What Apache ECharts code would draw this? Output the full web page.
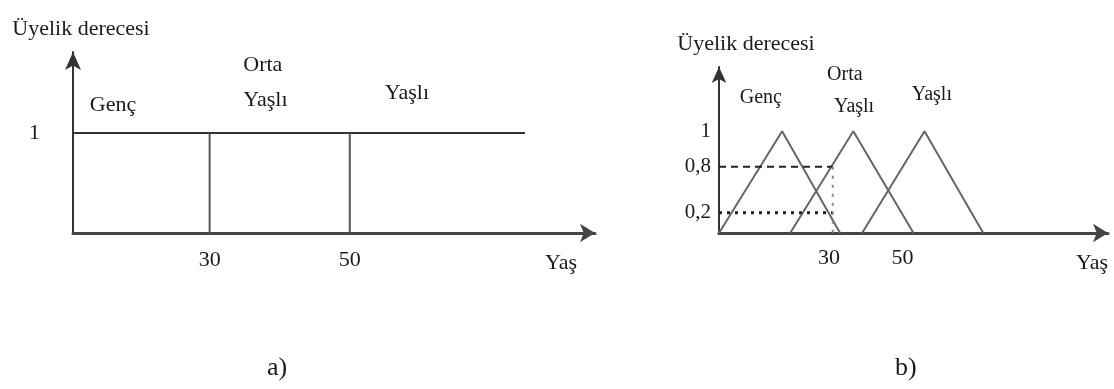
<!DOCTYPE html>
<html>
<head>
<meta charset="utf-8">
<script src="https://cdn.jsdelivr.net/npm/echarts@6/dist/echarts.min.js"></script>
<style>
  html, body { margin: 0; padding: 0; background: #fff; }
  #main { width: 1114px; height: 389px; }
</style>
</head>
<body>
<div id="main"></div>
<script>
// a) crisp sets
const cutsA = [30, 50];
const topLineA = [[10.5, 1], [75, 1]];
const labelTextA = ['Genç', 'Orta', 'Yaşlı', 'Yaşlı'];
const labelXA = [12.9, 34.8, 34.8, 55];
const labelYA = [1.28, 1.68, 1.33, 1.40];

// b) fuzzy sets (triangles)
const gencB = [[0, 0], [17.2, 1], [33, 0]];
const ortaB = [[19.4, 0], [36.6, 1], [53, 0]];
const yasliB = [[39, 0], [56, 1], [72, 0]];
const cutB = 31;
const highB = 0.65;
const lowB = 0.2;
const labelTextB = ['Genç', 'Orta', 'Yaşlı', 'Yaşlı'];
const labelXB = [11.4, 34.3, 36.8, 58];
const labelYB = [1.33, 1.55, 1.24, 1.36];

const xTicksA = [30, 50];
const xTicksB = [30, 50];
const yTicksA = [1];
const yTicksB = [0.2, 0.65, 1];
const yTickTextB = ['0,2', '0,8', '1'];

const font = 'Liberation Serif';
const ink = '#1a1a1a';

function textPoints(xs, ys, names) {
    return names.map(function (n, i) {
        return { value: [xs[i], ys[i]], name: n };
    });
}

function baseX(min, max, ticks, margin, nameGap) {
    return {
        type: 'value', min: min, max: max,
        name: 'Yaş', nameLocation: 'end', nameGap: nameGap,
        nameTextStyle: { fontFamily: font, fontSize: 22, color: ink, align: 'right', verticalAlign: 'top', padding: [19, 0, 0, 0] },
        splitLine: { show: false },
        axisTick: { show: false },
        axisLine: { symbol: ['none', 'arrow'], symbolSize: [14, 15], lineStyle: { color: '#444', width: 3 } },
        axisLabel: { customValues: ticks, margin: margin, fontFamily: font, fontSize: 22, color: ink }
    };
}

option = {
    animation: false,
    title: [
        { text: 'a)', left: 262, top: 350, textStyle: { fontFamily: font, fontSize: 26, fontWeight: 'normal', color: ink } },
        { text: 'b)', left: 890, top: 350, textStyle: { fontFamily: font, fontSize: 26, fontWeight: 'normal', color: ink } }
    ],
    grid: [
        { left: 73, right: 519, top: 52, bottom: 156 },
        { left: 719, right: 6, top: 67, bottom: 156 }
    ],
    xAxis: [
        Object.assign(baseX(10.5, 85, xTicksA, 16, -18), { gridIndex: 0 }),
        Object.assign(baseX(0, 106, xTicksB, 14, 0), { gridIndex: 1 })
    ],
    yAxis: [{
        gridIndex: 0, type: 'value', min: 0, max: 1.81,
        name: 'Üyelik derecesi', nameLocation: 'end', nameGap: 12,
        nameTextStyle: { fontFamily: font, fontSize: 22, color: ink, padding: [0, 0, 0, 16] },
        splitLine: { show: false },
        axisTick: { show: false },
        axisLine: { symbol: ['none', 'arrow'], symbolSize: [12, 18], lineStyle: { color: '#333', width: 2 } },
        axisLabel: { customValues: yTicksA, margin: 33, fontFamily: font, fontSize: 22, color: ink }
    }, {
        gridIndex: 1, type: 'value', min: 0, max: 1.63,
        name: 'Üyelik derecesi', nameLocation: 'end', nameGap: 12,
        nameTextStyle: { fontFamily: font, fontSize: 22, color: ink, padding: [0, 0, 0, 54] },
        splitLine: { show: false },
        axisTick: { show: false },
        axisLine: { symbol: ['none', 'arrow'], symbolSize: [11, 16], lineStyle: { color: '#333', width: 2 } },
        axisLabel: {
            customValues: yTicksB, margin: 8, fontFamily: font, fontSize: 21, color: ink,
            padding: [0, 0, 10, 0],
            formatter: function (v) {
                return yTickTextB[yTicksB.indexOf(v)];
            }
        }
    }],
    series: [
        // a)
        { type: 'line', xAxisIndex: 0, yAxisIndex: 0, data: topLineA, symbol: 'none', silent: true,
          lineStyle: { color: '#333', width: 2 } },
        { type: 'line', xAxisIndex: 0, yAxisIndex: 0, data: [[cutsA[0], 0], [cutsA[0], 1]], symbol: 'none', silent: true,
          lineStyle: { color: '#555', width: 2 } },
        { type: 'line', xAxisIndex: 0, yAxisIndex: 0, data: [[cutsA[1], 0], [cutsA[1], 1]], symbol: 'none', silent: true,
          lineStyle: { color: '#555', width: 2 } },
        { type: 'scatter', xAxisIndex: 0, yAxisIndex: 0, symbolSize: 0, silent: true,
          itemStyle: { opacity: 1 },
          data: textPoints(labelXA, labelYA, labelTextA),
          label: { show: true, position: 'inside', align: 'left', formatter: '{b}', fontFamily: font, fontSize: 22, color: ink } },
        // b)
        { type: 'line', xAxisIndex: 1, yAxisIndex: 1, data: gencB, symbol: 'none', silent: true,
          lineStyle: { color: '#666', width: 2 } },
        { type: 'line', xAxisIndex: 1, yAxisIndex: 1, data: ortaB, symbol: 'none', silent: true,
          lineStyle: { color: '#666', width: 2 } },
        { type: 'line', xAxisIndex: 1, yAxisIndex: 1, data: yasliB, symbol: 'none', silent: true,
          lineStyle: { color: '#666', width: 2 } },
        { type: 'line', xAxisIndex: 1, yAxisIndex: 1, data: [[0, highB], [cutB, highB]], symbol: 'none', silent: true,
          lineStyle: { color: '#222', width: 2, type: [7, 5] } },
        { type: 'line', xAxisIndex: 1, yAxisIndex: 1, data: [[0, lowB], [cutB, lowB]], symbol: 'none', silent: true,
          lineStyle: { color: '#222', width: 3, type: [3, 5] } },
        { type: 'line', xAxisIndex: 1, yAxisIndex: 1, data: [[cutB, highB], [cutB, 0]], symbol: 'none', silent: true,
          lineStyle: { color: '#888', width: 2, type: [3, 6] } },
        { type: 'scatter', xAxisIndex: 1, yAxisIndex: 1, symbolSize: 0, silent: true,
          itemStyle: { opacity: 1 },
          data: textPoints(labelXB, labelYB, labelTextB),
          label: { show: true, position: 'inside', align: 'center', formatter: '{b}', fontFamily: font, fontSize: 20, color: ink } }
    ]
};

echarts.init(document.getElementById('main')).setOption(option);
</script>
</body>
</html>
